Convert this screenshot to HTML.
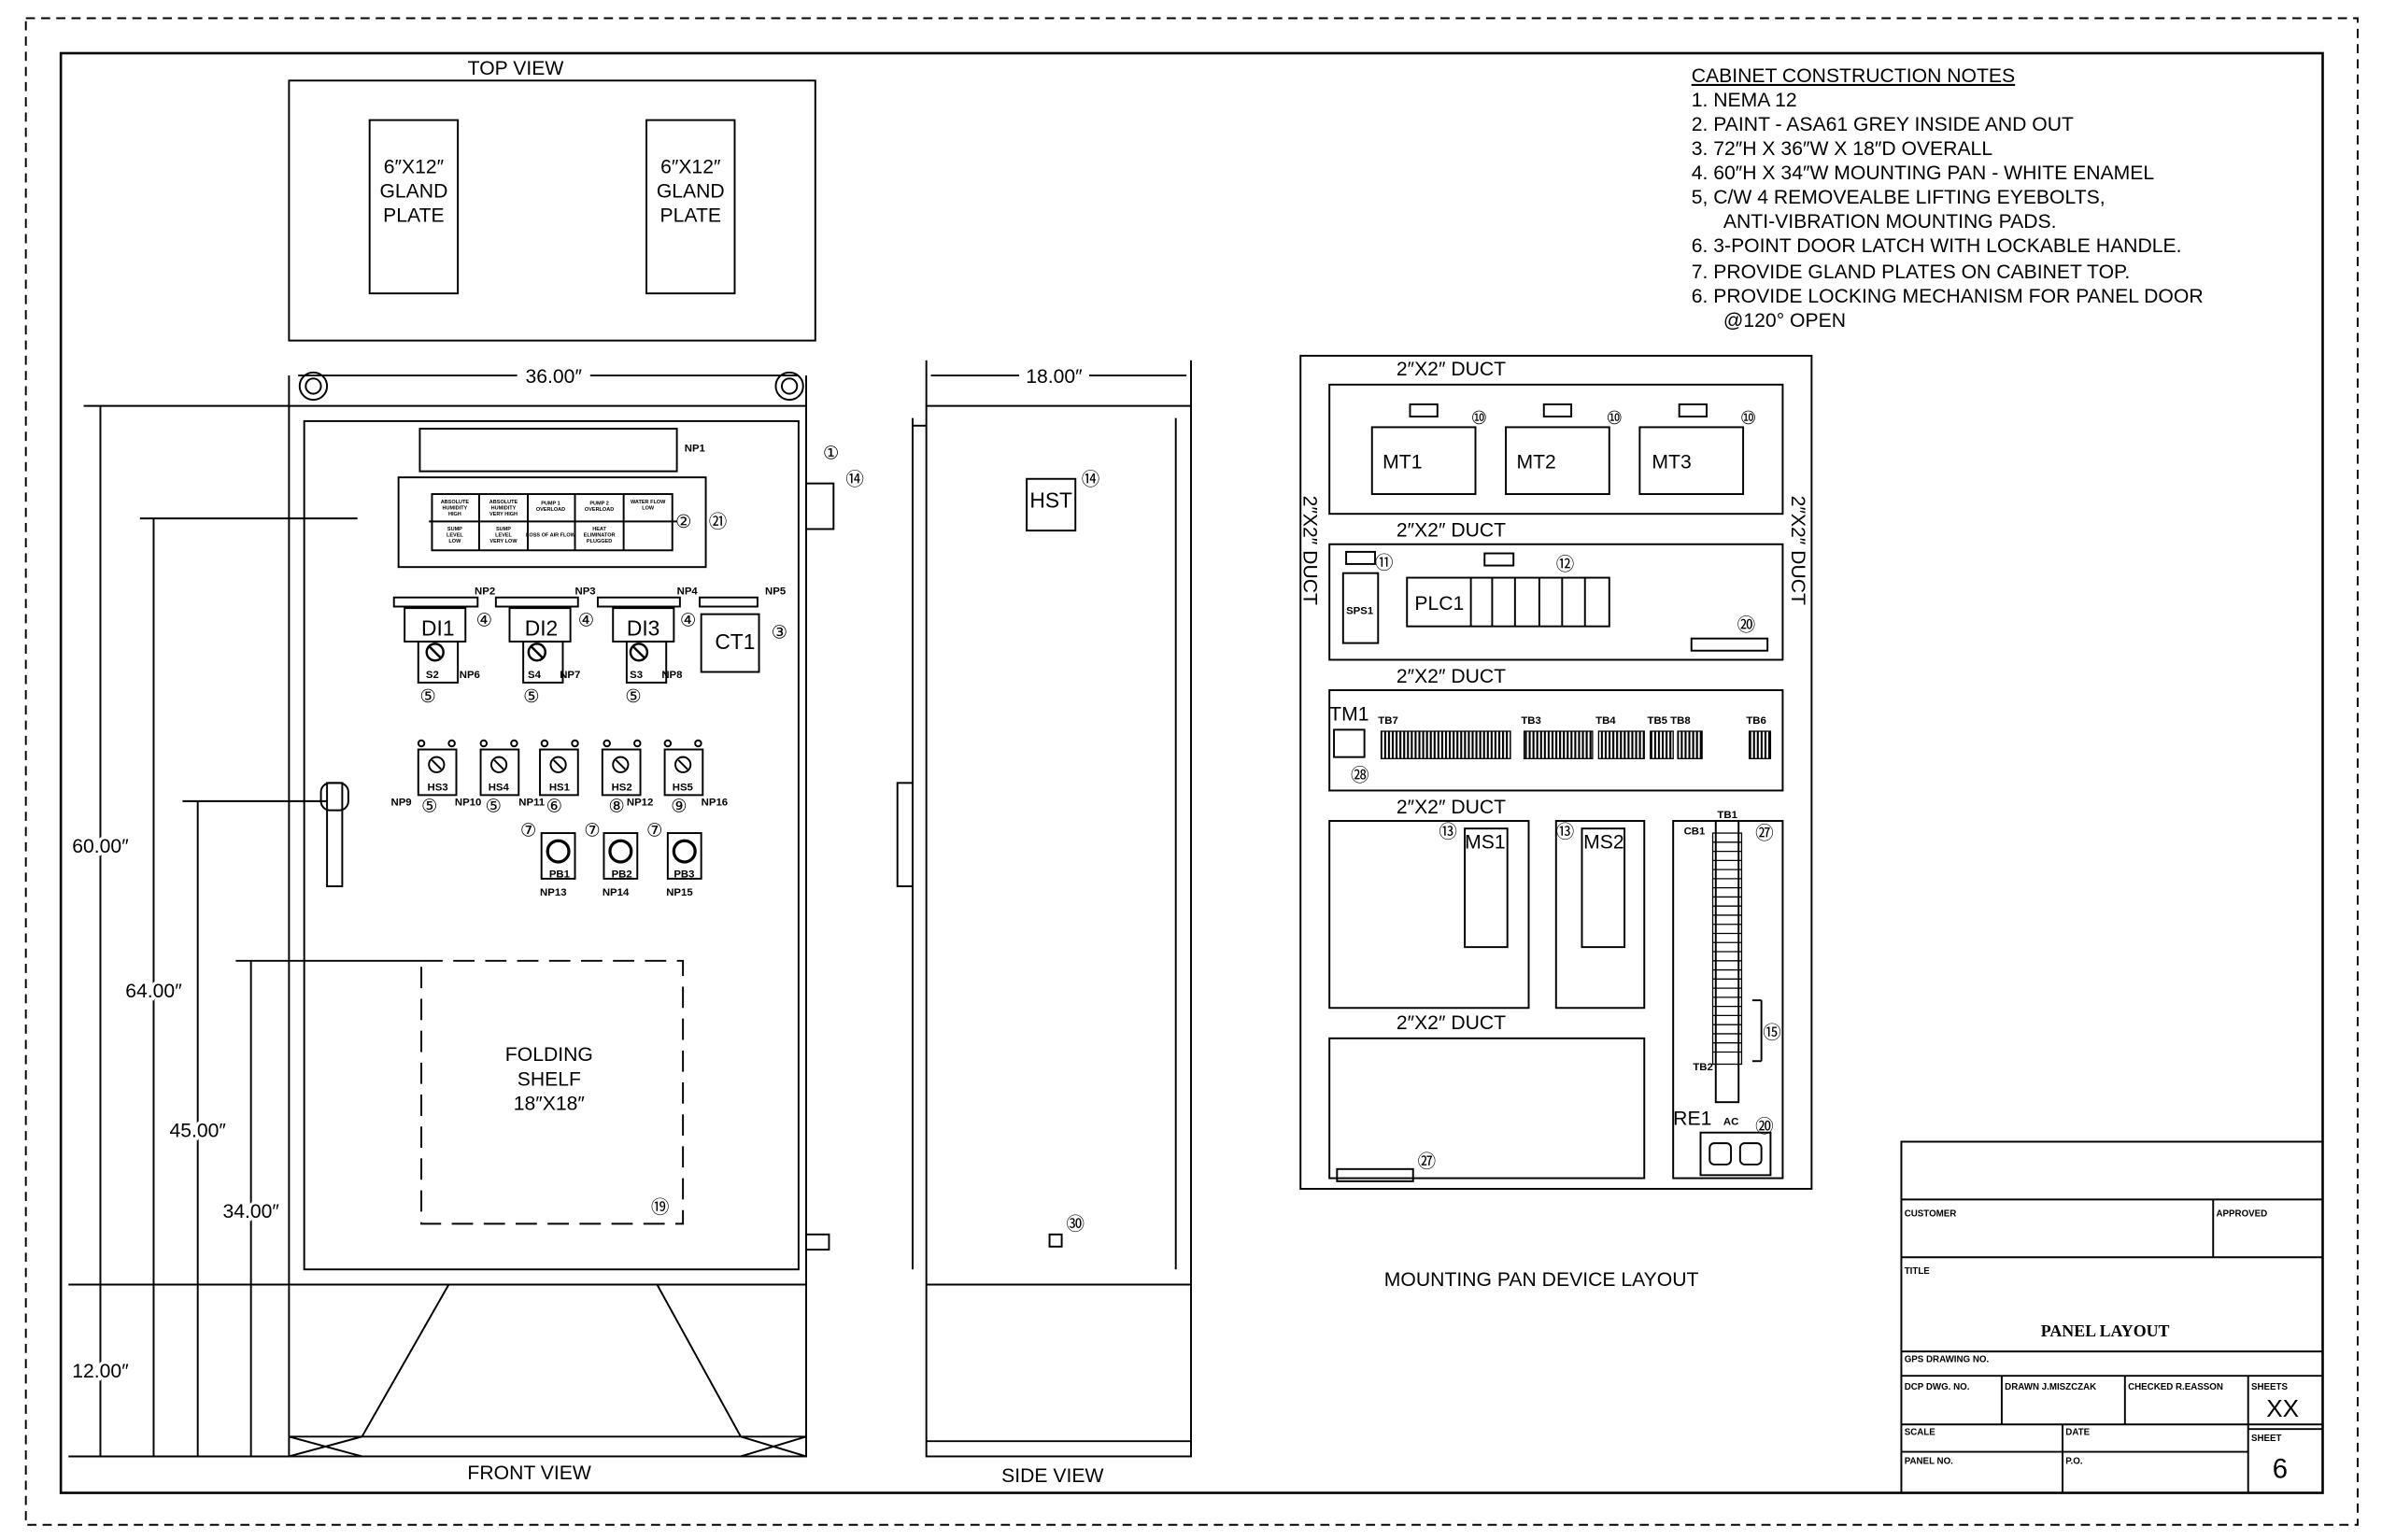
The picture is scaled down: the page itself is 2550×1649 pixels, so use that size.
<!DOCTYPE html>
<html><head><meta charset="utf-8"><style>
html,body{margin:0;padding:0;background:#fff}
svg{display:block}
text{font-family:"Liberation Sans",sans-serif;fill:#000}
.t{font-size:13px}
.m{font-size:7px;font-weight:bold}
</style></head><body>
<svg width="2550" height="1649" viewBox="0 0 1566 1013" preserveAspectRatio="none" xmlns="http://www.w3.org/2000/svg">
<defs><pattern id="h" width="2.5" height="4" patternUnits="userSpaceOnUse"><rect width="1.3" height="4" fill="#000"/></pattern></defs>
<g fill="none" stroke="#000" stroke-width="1.2">
<rect x="17" y="12" width="1533" height="991" stroke-dasharray="6,4"/>
<rect x="40" y="35" width="1487" height="947" stroke-width="1.6"/>
<rect x="190" y="53" width="346" height="171"/>
<rect x="243" y="79" width="58" height="114"/>
<rect x="425" y="79" width="58" height="114"/>
<line x1="190" y1="247" x2="190" y2="267"/><line x1="530" y1="247" x2="530" y2="267"/>
<line x1="196" y1="247" x2="340" y2="247"/><line x1="388" y1="247" x2="525" y2="247"/>
<circle cx="206" cy="254" r="9"/><circle cx="206" cy="254" r="5"/>
<circle cx="519" cy="254" r="9"/><circle cx="519" cy="254" r="5"/>
<rect x="190" y="267" width="340" height="578"/>
<rect x="200" y="277" width="325" height="558"/>
<rect x="530" y="318" width="18" height="30"/>
<rect x="530" y="812" width="15" height="10"/>
<rect x="276" y="282" width="169" height="28"/>
<rect x="262" y="314" width="202" height="59"/>
<rect x="284" y="325" width="158" height="37"/>
<line x1="282" y1="343" x2="445" y2="343"/>
<line x1="315" y1="325" x2="315" y2="362"/><line x1="347" y1="325" x2="347" y2="362"/><line x1="378" y1="325" x2="378" y2="362"/><line x1="410" y1="325" x2="410" y2="362"/>
<rect x="259" y="393" width="55" height="6"/><rect x="326" y="393" width="54" height="6"/><rect x="393" y="393" width="54" height="6"/><rect x="460" y="393" width="38" height="6"/>
<rect x="266" y="400" width="40" height="22"/><rect x="335" y="400" width="40" height="22"/><rect x="403" y="400" width="40" height="22"/>
<rect x="461" y="404" width="38" height="38"/>
<rect x="275" y="422" width="26" height="27"/><rect x="344" y="422" width="26" height="27"/><rect x="412" y="422" width="26" height="27"/>
<g stroke-width="1.5">
<circle cx="286" cy="429" r="5.5"/><line x1="282" y1="425" x2="290" y2="433"/>
<circle cx="353" cy="429" r="5.5"/><line x1="349" y1="425" x2="357" y2="433"/>
<circle cx="420" cy="429" r="5.5"/><line x1="416" y1="425" x2="424" y2="433"/>
</g>
<rect x="275" y="493" width="25" height="30"/><rect x="316" y="493" width="25" height="30"/><rect x="355" y="493" width="25" height="30"/><rect x="396" y="493" width="25" height="30"/><rect x="437" y="493" width="25" height="30"/>
<circle cx="287" cy="503" r="5"/><circle cx="328" cy="503" r="5"/><circle cx="367" cy="503" r="5"/><circle cx="408" cy="503" r="5"/><circle cx="449" cy="503" r="5"/>
<line x1="284" y1="500" x2="290" y2="506"/><line x1="325" y1="500" x2="331" y2="506"/><line x1="364" y1="500" x2="370" y2="506"/><line x1="405" y1="500" x2="411" y2="506"/><line x1="446" y1="500" x2="452" y2="506"/>
<circle cx="277" cy="489" r="2"/><circle cx="297" cy="489" r="2"/><circle cx="318" cy="489" r="2"/><circle cx="338" cy="489" r="2"/><circle cx="358" cy="489" r="2"/><circle cx="378" cy="489" r="2"/><circle cx="399" cy="489" r="2"/><circle cx="419" cy="489" r="2"/><circle cx="439" cy="489" r="2"/><circle cx="459" cy="489" r="2"/>
<rect x="356" y="548" width="22" height="30"/><rect x="397" y="548" width="22" height="30"/><rect x="439" y="548" width="22" height="30"/>
<circle cx="367" cy="560" r="7" stroke-width="2"/><circle cx="408" cy="560" r="7" stroke-width="2"/><circle cx="450" cy="560" r="7" stroke-width="2"/>
<rect x="215" y="515" width="10" height="68"/><rect x="211" y="515" width="18" height="18" rx="6"/>
<rect x="277" y="632" width="172" height="173" stroke-dasharray="14,7"/>
<rect x="190" y="845" width="340" height="113"/>
<line x1="190" y1="945" x2="530" y2="945"/>
<line x1="295" y1="845" x2="238" y2="945"/><line x1="432" y1="845" x2="487" y2="945"/>
<line x1="190" y1="945" x2="238" y2="958"/><line x1="238" y1="945" x2="190" y2="958"/><line x1="487" y1="945" x2="530" y2="958"/><line x1="530" y1="945" x2="487" y2="958"/>
<line x1="66" y1="267" x2="66" y2="958"/><line x1="55" y1="267" x2="190" y2="267"/>
<line x1="101" y1="341" x2="101" y2="958"/><line x1="92" y1="341" x2="235" y2="341"/>
<line x1="130" y1="527" x2="130" y2="958"/><line x1="120" y1="527" x2="215" y2="527"/>
<line x1="165" y1="632" x2="165" y2="958"/><line x1="155" y1="632" x2="277" y2="632"/>
<line x1="45" y1="845" x2="190" y2="845"/><line x1="45" y1="958" x2="190" y2="958"/>
<line x1="609" y1="237" x2="609" y2="267"/><line x1="783" y1="237" x2="783" y2="267"/>
<line x1="612" y1="247" x2="670" y2="247"/><line x1="716" y1="247" x2="780" y2="247"/>
<rect x="609" y="267" width="174" height="691"/>
<line x1="600" y1="275" x2="600" y2="835"/><line x1="609" y1="280" x2="600" y2="280"/>
<line x1="773" y1="275" x2="773" y2="835"/>
<line x1="609" y1="845" x2="783" y2="845"/><line x1="609" y1="948" x2="783" y2="948"/>
<rect x="590" y="515" width="10" height="68"/>
<rect x="675" y="315" width="32" height="34"/>
<rect x="690" y="812" width="8" height="8"/>
<rect x="855" y="234" width="336" height="548"/>
<rect x="874" y="253" width="298" height="85"/>
<rect x="927" y="266" width="18" height="8"/><rect x="1015" y="266" width="18" height="8"/><rect x="1104" y="266" width="18" height="8"/>
<rect x="902" y="281" width="68" height="44"/><rect x="990" y="281" width="68" height="44"/><rect x="1078" y="281" width="68" height="44"/>
<rect x="874" y="358" width="298" height="76"/>
<rect x="885" y="363" width="19" height="8"/><rect x="976" y="364" width="19" height="8"/>
<rect x="883" y="377" width="23" height="46"/>
<rect x="925" y="380" width="133" height="32"/>
<line x1="967" y1="380" x2="967" y2="412"/><line x1="981" y1="380" x2="981" y2="412"/><line x1="996" y1="380" x2="996" y2="412"/><line x1="1012" y1="380" x2="1012" y2="412"/><line x1="1027" y1="380" x2="1027" y2="412"/><line x1="1042" y1="380" x2="1042" y2="412"/>
<rect x="1112" y="420" width="50" height="8"/>
<rect x="874" y="454" width="298" height="66"/>
<rect x="877" y="480" width="20" height="18"/>
<rect x="874" y="540" width="131" height="123"/>
<rect x="963" y="545" width="28" height="78"/>
<rect x="1023" y="540" width="58" height="123"/>
<rect x="1040" y="545" width="28" height="78"/>
<rect x="1100" y="540" width="72" height="235"/>
<rect x="1128" y="540" width="15" height="185"/>
<line x1="1152" y1="658" x2="1158" y2="658"/><line x1="1158" y1="658" x2="1158" y2="698"/><line x1="1152" y1="698" x2="1158" y2="698"/>
<rect x="1118" y="745" width="46" height="28"/>
<rect x="1124" y="752" width="14" height="14" rx="3"/><rect x="1144" y="752" width="14" height="14" rx="3"/>
<rect x="874" y="683" width="207" height="92"/>
<rect x="879" y="769" width="50" height="8"/>
<rect x="1250" y="751" width="277" height="231"/>
<line x1="1250" y1="789" x2="1527" y2="789"/>
<line x1="1250" y1="827" x2="1527" y2="827"/><line x1="1455" y1="789" x2="1455" y2="827"/>
<line x1="1250" y1="889" x2="1527" y2="889"/>
<line x1="1250" y1="905" x2="1527" y2="905"/>
<line x1="1250" y1="937" x2="1527" y2="937"/>
<line x1="1250" y1="955" x2="1478" y2="955"/>
<line x1="1316" y1="905" x2="1316" y2="937"/><line x1="1397" y1="905" x2="1397" y2="937"/><line x1="1478" y1="905" x2="1478" y2="982"/>
<line x1="1356" y1="937" x2="1356" y2="982"/>
<line x1="1478" y1="940" x2="1527" y2="940"/>
</g>
<g fill="url(#h)" stroke="#000" stroke-width="0.8">
<rect x="908" y="481" width="85" height="18"/>
<rect x="1002" y="481" width="45" height="18"/>
<rect x="1051" y="481" width="30" height="18"/>
<rect x="1085" y="481" width="15" height="18"/>
<rect x="1103" y="481" width="16" height="18"/>
<rect x="1150" y="481" width="14" height="18"/>
</g>
<g stroke="#000" stroke-width="0.8" fill="none">
<rect x="1126" y="548" width="19" height="152"/>
<path d="M1126 554H1145M1126 560H1145M1126 566H1145M1126 572H1145M1126 578H1145M1126 584H1145M1126 590H1145M1126 596H1145M1126 602H1145M1126 608H1145M1126 614H1145M1126 620H1145M1126 626H1145M1126 632H1145M1126 638H1145M1126 644H1145M1126 650H1145M1126 656H1145M1126 662H1145M1126 668H1145M1126 674H1145M1126 680H1145M1126 686H1145M1126 692H1145"/>
</g>
<text x="339" y="49" class="t" text-anchor="middle">TOP VIEW</text>
<g class="t" text-anchor="middle"><text x="272" y="114">6″X12″</text><text x="272" y="130">GLAND</text><text x="272" y="146">PLATE</text>
<text x="454" y="114">6″X12″</text><text x="454" y="130">GLAND</text><text x="454" y="146">PLATE</text></g>
<text x="364" y="252" class="t" text-anchor="middle">36.00″</text>
<text x="693" y="252" class="t" text-anchor="middle">18.00″</text>
<text x="66" y="561" class="t" text-anchor="middle" style="paint-order:stroke;stroke:#fff;stroke-width:4">60.00″</text>
<text x="101" y="656" class="t" text-anchor="middle" style="paint-order:stroke;stroke:#fff;stroke-width:4">64.00″</text>
<text x="130" y="748" class="t" text-anchor="middle" style="paint-order:stroke;stroke:#fff;stroke-width:4">45.00″</text>
<text x="165" y="801" class="t" text-anchor="middle" style="paint-order:stroke;stroke:#fff;stroke-width:4">34.00″</text>
<text x="66" y="906" class="t" text-anchor="middle" style="paint-order:stroke;stroke:#fff;stroke-width:4">12.00″</text>
<text x="348" y="973" class="t" text-anchor="middle">FRONT VIEW</text>
<text x="692" y="975" class="t" text-anchor="middle">SIDE VIEW</text>
<g class="t" text-anchor="middle"><text x="361" y="698">FOLDING</text><text x="361" y="714">SHELF</text><text x="361" y="730">18″X18″</text></g>
<g class="m"><text x="450" y="297">NP1</text><text x="312" y="391">NP2</text><text x="378" y="391">NP3</text><text x="445" y="391">NP4</text><text x="503" y="391">NP5</text>
<text x="302" y="446">NP6</text><text x="368" y="446">NP7</text><text x="435" y="446">NP8</text>
<text x="257" y="530">NP9</text><text x="299" y="530">NP10</text><text x="341" y="530">NP11</text><text x="412" y="530">NP12</text><text x="461" y="530">NP16</text>
<text x="355" y="589">NP13</text><text x="396" y="589">NP14</text><text x="438" y="589">NP15</text>
<text x="280" y="446">S2</text><text x="347" y="446">S4</text><text x="414" y="446">S3</text>
<text x="281" y="520">HS3</text><text x="321" y="520">HS4</text><text x="361" y="520">HS1</text><text x="402" y="520">HS2</text><text x="442" y="520">HS5</text>
<text x="361" y="577">PB1</text><text x="402" y="577">PB2</text><text x="443" y="577">PB3</text></g>
<g style="font-size:14px"><text x="277" y="418">DI1</text><text x="345" y="418">DI2</text><text x="412" y="418">DI3</text><text x="470" y="427">CT1</text><text x="677" y="334">HST</text></g>
<g style="font-size:12px"><text x="313" y="412">④</text><text x="380" y="412">④</text><text x="447" y="412">④</text><text x="507" y="420">③</text>
<text x="276" y="462">⑤</text><text x="344" y="462">⑤</text><text x="411" y="462">⑤</text><text x="444" y="347">②</text><text x="466" y="347">㉑</text>
<text x="541" y="302">①</text><text x="556" y="319">⑭</text><text x="711" y="319">⑭</text><text x="701" y="809">㉚</text><text x="428" y="798">⑲</text>
<text x="277" y="534">⑤</text><text x="319" y="534">⑤</text><text x="359" y="534">⑥</text><text x="400" y="534">⑧</text><text x="441" y="534">⑨</text>
<text x="342" y="550">⑦</text><text x="384" y="550">⑦</text><text x="425" y="550">⑦</text>
<text x="967" y="279">⑩</text><text x="1056" y="279">⑩</text><text x="1144" y="279">⑩</text><text x="904" y="374">⑪</text><text x="1023" y="375">⑫</text><text x="1142" y="415">⑳</text>
<text x="888" y="514">㉘</text><text x="946" y="551">⑬</text><text x="1023" y="551">⑬</text><text x="1154" y="552">㉗</text><text x="1159" y="683">⑮</text><text x="1154" y="745">⑳</text><text x="932" y="768">㉗</text></g>
<g style="font-size:3.4px;font-weight:bold" text-anchor="middle">
<text x="299" y="331">ABSOLUTE</text><text x="299" y="335">HUMIDITY</text><text x="299" y="339">HIGH</text>
<text x="331" y="331">ABSOLUTE</text><text x="331" y="335">HUMIDITY</text><text x="331" y="339">VERY HIGH</text>
<text x="362" y="332">PUMP 1</text><text x="362" y="336">OVERLOAD</text>
<text x="394" y="332">PUMP 2</text><text x="394" y="336">OVERLOAD</text>
<text x="426" y="331">WATER FLOW</text><text x="426" y="335">LOW</text>
<text x="299" y="349">SUMP</text><text x="299" y="353">LEVEL</text><text x="299" y="357">LOW</text>
<text x="331" y="349">SUMP</text><text x="331" y="353">LEVEL</text><text x="331" y="357">VERY LOW</text>
<text x="362" y="353">LOSS OF AIR FLOW</text>
<text x="394" y="349">HEAT</text><text x="394" y="353">ELIMINATOR</text><text x="394" y="357">PLUGGED</text></g>
<g class="t"><text x="918" y="247">2″X2″ DUCT</text><text x="918" y="353">2″X2″ DUCT</text><text x="918" y="449">2″X2″ DUCT</text><text x="918" y="535">2″X2″ DUCT</text><text x="918" y="677">2″X2″ DUCT</text>
<text x="909" y="308">MT1</text><text x="997" y="308">MT2</text><text x="1086" y="308">MT3</text><text x="930" y="401">PLC1</text><text x="874" y="474">TM1</text><text x="963" y="558">MS1</text><text x="1041" y="558">MS2</text><text x="1100" y="740">RE1</text>
<text x="910" y="846">MOUNTING PAN DEVICE LAYOUT</text>
<text transform="translate(857,326) rotate(90)">2″X2″ DUCT</text><text transform="translate(1178,326) rotate(90)">2″X2″ DUCT</text></g>
<g class="m"><text x="885" y="404">SPS1</text><text x="906" y="476">TB7</text><text x="1000" y="476">TB3</text><text x="1049" y="476">TB4</text><text x="1083" y="476">TB5 TB8</text><text x="1148" y="476">TB6</text><text x="1129" y="538">TB1</text><text x="1107" y="549">CB1</text><text x="1113" y="704">TB2</text><text x="1133" y="740">AC</text></g>
<g class="t"><text x="1112" y="54" text-decoration="underline">CABINET CONSTRUCTION NOTES</text>
<text x="1112" y="70">1. NEMA 12</text><text x="1112" y="86">2. PAINT - ASA61 GREY INSIDE AND OUT</text><text x="1112" y="102">3. 72″H X 36″W X 18″D OVERALL</text>
<text x="1112" y="118">4. 60″H X 34″W MOUNTING PAN - WHITE ENAMEL</text><text x="1112" y="134">5, C/W 4 REMOVEALBE LIFTING EYEBOLTS,</text><text x="1133" y="150">ANTI-VIBRATION MOUNTING PADS.</text>
<text x="1112" y="166">6. 3-POINT DOOR LATCH WITH LOCKABLE HANDLE.</text><text x="1112" y="183">7. PROVIDE GLAND PLATES ON CABINET TOP.</text><text x="1112" y="199">6. PROVIDE LOCKING MECHANISM FOR PANEL DOOR</text><text x="1133" y="215">@120° OPEN</text></g>
<g style="font-size:6px;font-weight:bold"><text x="1252" y="800">CUSTOMER</text><text x="1457" y="800">APPROVED</text><text x="1252" y="838">TITLE</text><text x="1252" y="896">GPS DRAWING NO.</text>
<text x="1252" y="914">DCP DWG. NO.</text><text x="1318" y="914">DRAWN  J.MISZCZAK</text><text x="1399" y="914">CHECKED  R.EASSON</text><text x="1480" y="914">SHEETS</text>
<text x="1252" y="944">SCALE</text><text x="1358" y="944">DATE</text><text x="1480" y="948">SHEET</text><text x="1252" y="963">PANEL NO.</text><text x="1358" y="963">P.O.</text></g>
<text x="1384" y="879" style="font-family:'Liberation Serif',serif;font-size:11px;font-weight:bold" text-anchor="middle">PANEL LAYOUT</text>
<text x="1490" y="932" style="font-size:16px">XX</text><text x="1494" y="972" style="font-size:18px">6</text>
</svg>
</body></html>
